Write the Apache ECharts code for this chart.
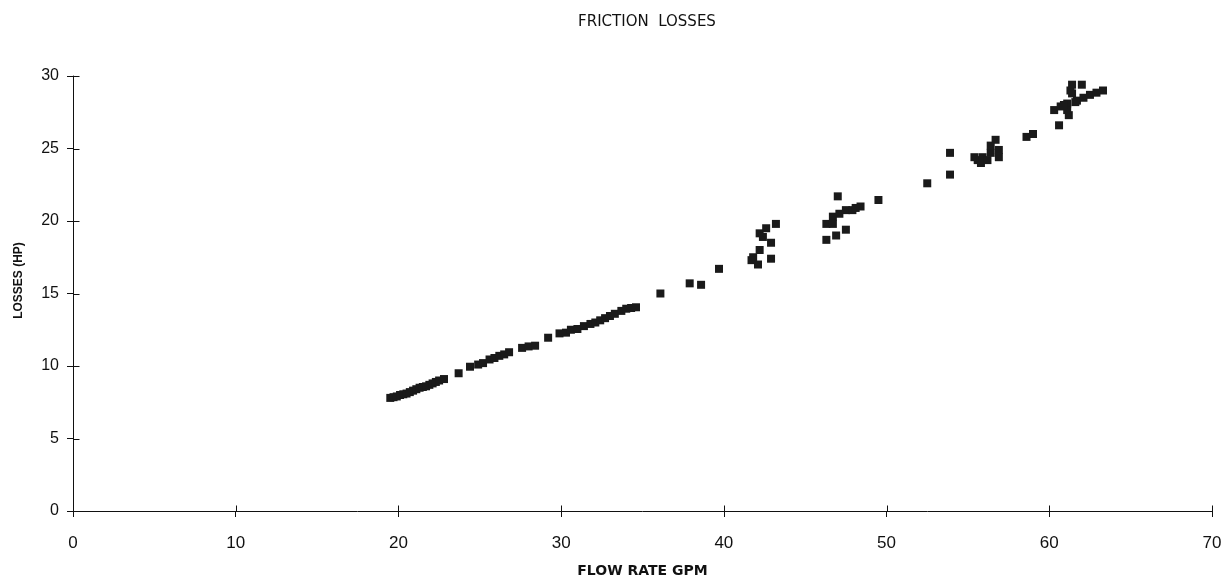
<!DOCTYPE html>
<html>
<head>
<meta charset="utf-8">
<script src="https://cdn.jsdelivr.net/npm/echarts@6/dist/echarts.min.js"></script>
<style>
html,body{margin:0;padding:0;background:#fff;}
#chart{width:1230px;height:586px;}
</style>
</head>
<body>
<div id="chart"></div>
<script>
const titleText = "FRICTION  LOSSES";
const xAxisName = "FLOW RATE GPM";
const yAxisName = "LOSSES (HP)";
const xTicks = [0, 10, 20, 30, 40, 50, 60, 70];
const yTicks = [0, 5, 10, 15, 20, 25, 30];

// flow rate (GPM) values
const flowRate = [
  19.5, 19.7, 19.9, 20.1, 20.3, 20.5, 20.7, 20.9, 21.1, 21.3, 21.5, 21.7, 21.9, 22.1, 22.3, 22.5, 22.8,
  23.7, 24.4, 24.9, 25.2, 25.6, 25.9, 26.2, 26.5, 26.8, 27.6, 28.0, 28.4, 29.2, 29.9, 30.3, 30.6, 31.0,
  31.4, 31.8, 32.1, 32.4, 32.7, 33.0, 33.3, 33.7, 34.0, 34.3, 34.6,
  36.1, 37.9, 38.6, 39.7,
  41.8, 41.7, 42.1, 42.9, 42.2, 42.9, 42.2, 42.6, 43.2, 42.4,
  47.0, 46.3, 46.7, 47.1, 47.5, 48.4, 47.9, 46.3, 46.9, 47.5, 46.7, 48.1, 49.5,
  52.5, 53.9, 53.9,
  55.6, 55.9, 56.4, 56.9, 56.7, 56.4, 56.9, 55.8, 55.4, 56.2,
  58.6, 59.0, 60.6,
  60.3, 60.7, 61.1, 61.4, 62.0, 61.4, 61.2, 61.1, 61.7, 62.1, 62.5, 62.9, 63.3, 61.3, 61.6, 60.9
];
// friction losses (HP) values
const lossesHP = [
  7.8, 7.85, 7.9, 8.0, 8.05, 8.1, 8.2, 8.3, 8.4, 8.5, 8.55, 8.6, 8.7, 8.8, 8.9, 9.0, 9.1,
  9.5, 9.95, 10.1, 10.2, 10.45, 10.55, 10.7, 10.8, 10.95, 11.25, 11.35, 11.4, 11.95, 12.25, 12.3, 12.5, 12.55,
  12.75, 12.9, 13.0, 13.15, 13.3, 13.45, 13.6, 13.8, 13.95, 14.0, 14.05,
  15.0, 15.7, 15.6, 16.7,
  17.5, 17.3, 17.0, 17.4, 18.0, 18.5, 19.15, 19.5, 19.8, 18.9,
  21.7, 19.8, 20.3, 20.5, 20.75, 21.0, 20.75, 18.7, 19.0, 19.4, 19.8, 20.9, 21.45,
  22.6, 23.2, 24.7,
  24.2, 24.4, 24.7, 24.4, 25.6, 25.2, 24.9, 24.0, 24.4, 24.2,
  25.8, 26.0, 26.6,
  27.65, 27.9, 28.1, 29.4, 29.4, 28.8, 27.3, 27.65, 28.3, 28.5, 28.7, 28.85, 29.0, 29.0, 28.2, 28.0
];

const points = flowRate.map((x, i) => [x, lossesHP[i]]);
// inner half of the crossing tick marks, placed through the axis scales
const innerTicks = xTicks.map(v => [v, yTicks[0], 'x']).concat(yTicks.map(v => [xTicks[0], v, 'y']));

const chart = echarts.init(document.getElementById('chart'), null, {renderer: 'canvas'});
const axisFont = '"Liberation Sans Narrow", "Liberation Sans", Arial, sans-serif';
chart.setOption({
  backgroundColor: '#ffffff',
  animation: false,
  title: {
    text: titleText, left: 642, top: 10, textAlign: 'center',
    textStyle: {fontFamily: 'DejaVu Sans, sans-serif', fontSize: 15, fontWeight: 'normal', color: '#111'}
  },
  grid: {left: 73, right: 18, top: 76, bottom: 75, containLabel: false},
  xAxis: {
    type: 'value', min: xTicks[0], max: xTicks[xTicks.length - 1], interval: 10,
    splitLine: {show: false},
    name: xAxisName, nameLocation: 'middle', nameGap: 53,
    nameTextStyle: {fontFamily: 'DejaVu Sans, sans-serif', fontSize: 14, fontWeight: 'bold', color: '#111'},
    axisLine: {show: true, onZero: false, lineStyle: {color: '#111', width: 1}},
    axisTick: {show: true, inside: false, length: 6, lineStyle: {color: '#111'}},
    axisLabel: {show: true, margin: 24, fontFamily: axisFont, fontSize: 17, color: '#111'}
  },
  yAxis: {
    type: 'value', min: yTicks[0], max: yTicks[yTicks.length - 1], interval: 5,
    splitLine: {show: false},
    name: yAxisName, nameLocation: 'middle', nameGap: 48, nameRotate: 90,
    nameTextStyle: {fontFamily: 'Liberation Sans, Arial, sans-serif', fontSize: 12, fontWeight: 'bold', color: '#111', padding: [0, 0, 0, 26]},
    axisLine: {show: true, onZero: false, lineStyle: {color: '#111', width: 1}},
    axisTick: {show: true, inside: false, length: 6, lineStyle: {color: '#111'}},
    axisLabel: {show: true, margin: 14, fontFamily: 'Liberation Sans, Arial, sans-serif', fontSize: 16, color: '#111'}
  },
  series: [{
    type: 'scatter',
    symbol: 'rect', symbolSize: 8,
    itemStyle: {color: '#1a1a1a', opacity: 1},
    data: points,
    z: 3
  }, {
    type: 'custom',
    silent: true,
    clip: false,
    data: innerTicks,
    encode: {x: 0, y: 1},
    z: 2,
    renderItem: function (params, api) {
      const p = api.coord([api.value(0), api.value(1)]);
      const kind = innerTicks[params.dataIndex][2];
      const x = Math.round(p[0]) + 0.5, y = Math.round(p[1]) + 0.5;
      const shape = kind === 'x'
        ? {x1: x, y1: y, x2: x, y2: y - 6}
        : {x1: x, y1: y, x2: x + 6, y2: y};
      return {type: 'line', shape: shape, style: {stroke: '#111', lineWidth: 1}};
    }
  }]
});
</script>
</body>
</html>
